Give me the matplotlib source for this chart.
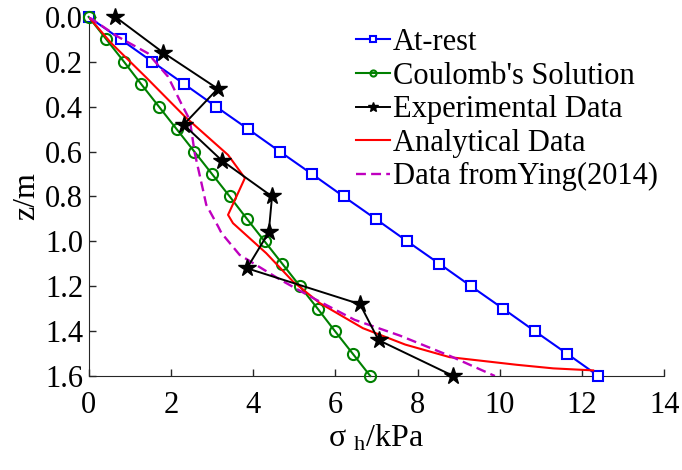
import numpy as np
import matplotlib
matplotlib.use('Agg')
import matplotlib.pyplot as plt

plt.rcParams['font.family'] = ['Liberation Serif', 'DejaVu Serif']
plt.rcParams['mathtext.fontset'] = 'custom'
plt.rcParams['mathtext.rm'] = 'Liberation Serif'
plt.rcParams['mathtext.it'] = 'Liberation Serif'

# depth grids
z_theory = np.round(np.arange(0, 1.61, 0.1), 2)
z_exp = np.round(np.arange(0, 1.61, 0.16), 2)

# at-rest and Coulomb
sigma_rest = [0.0, 0.78, 1.55, 2.33, 3.1, 3.88, 4.65, 5.43, 6.2, 6.98, 7.75, 8.53, 9.3, 10.08, 10.85, 11.63, 12.4]
sigma_coulomb = [0.0, 0.43, 0.86, 1.28, 1.71, 2.14, 2.57, 3.0, 3.43, 3.85, 4.28, 4.71, 5.14, 5.57, 5.99, 6.42, 6.85]

# experimental
sigma_exp = [0.65, 1.82, 3.14, 2.31, 3.24, 4.46, 4.38, 3.85, 6.60, 7.05, 8.87]

# analytical curve
z_ana = [0.0, 0.117, 0.27, 0.444, 0.615, 0.718, 0.882, 0.919, 1.053, 1.179, 1.275, 1.387, 1.46, 1.516, 1.55, 1.566, 1.575]
sigma_ana = [0.0, 0.55, 1.4, 2.34, 3.39, 3.80, 3.39, 3.51, 4.32, 4.97, 5.62, 6.67, 7.7, 8.78, 10.41, 11.3, 12.27]

# Ying (2014)
z_ying = [0.0, 0.088, 0.162, 0.266, 0.385, 0.459, 0.607, 0.77, 0.837, 0.934, 0.963, 1.06, 1.17, 1.253, 1.35, 1.42, 1.51, 1.6]
sigma_ying = [0.0, 0.71, 1.44, 1.93, 2.25, 2.46, 2.58, 2.78, 2.86, 3.15, 3.23, 3.67, 4.65, 5.46, 6.47, 7.57, 8.78, 9.88]

fig = plt.figure(figsize=(6.82, 4.70), dpi=100)
ax = fig.add_axes([0.130, 0.200, 0.844, 0.764])

ax.plot(sigma_rest, z_theory, '-s', color='blue', lw=1.5, ms=7, mfc='white', mew=1.5,
        label='At-rest', clip_on=False, zorder=3)
ax.plot(sigma_coulomb, z_theory, '-o', color='green', lw=1.5, ms=8, mfc='none', mew=1.5,
        label="Coulomb's Solution", clip_on=False, zorder=3)
ax.plot(sigma_exp, z_exp, '-*', color='black', lw=1.4, ms=13, label='Experimental Data',
        clip_on=False, zorder=4)
ax.plot(sigma_ana, z_ana, '-', color='red', lw=1.5, label='Analytical Data', zorder=3)
ax.plot(sigma_ying, z_ying, '--', color='#bf00bf', lw=1.7, dashes=(4.2, 2.2),
        label='Data fromYing(2014)', zorder=3)

ax.set_xlim(0, 14)
ax.set_ylim(1.6, 0)
ax.set_xticks(np.arange(0, 15, 2))
ax.set_yticks(np.round(np.arange(0, 1.61, 0.2), 1))
ax.yaxis.set_major_formatter(matplotlib.ticker.FormatStrFormatter('%.1f'))
ax.tick_params(direction='in', length=5, labelsize=22, width=1,
               colors='#262626', labelcolor='black')
ax.tick_params(axis='x', pad=11)
ax.tick_params(axis='y', pad=4)
for s in ['top', 'right']:
    ax.spines[s].set_visible(False)
for s in ['left', 'bottom']:
    ax.spines[s].set_color('#262626')

ax.set_xlabel(r'σ $_{\mathrm{h}}$/kPa', fontsize=23, labelpad=2)
ax.set_ylabel('z/m', fontsize=23, labelpad=3)

ax.legend(loc='upper right', bbox_to_anchor=(1.021, 1.02), frameon=False, fontsize=22,
          handlelength=1.1, handletextpad=0.1, labelspacing=0.15, markerscale=0.55,
          borderaxespad=0.2)

fig.savefig('out.png', dpi=100)
